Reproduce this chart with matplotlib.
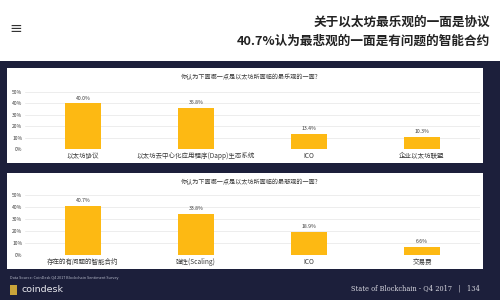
import matplotlib
matplotlib.use("Agg")
import matplotlib.pyplot as plt
import matplotlib.patches as patches

plt.rcParams['font.family'] = ['Noto Sans CJK SC', 'DejaVu Sans']

NAVY = "#1c1f3b"
BAR = "#fdb913"
TXT = "#3a3a3a"

# header text
header_lines = ["关于以太坊最乐观的一面是协议", "40.7%认为最悲观的一面是有问题的智能合约"]

# panel 1: most optimistic aspect
title_opt = "你认为下面哪一点是以太坊所面临的最乐观的一面?"
cats_opt = ["以太坊协议", "以太坊去中心化应用程序(Dapp)生态系统", "ICO", "企业以太坊联盟"]
vals_opt = [40.0, 35.8, 13.4, 10.3]

# panel 2: most pessimistic aspect
title_pes = "你认为下面哪一点是以太坊所面临的最悲观的一面?"
cats_pes = ["存在的有问题的智能合约", "弹性(Scaling)", "ICO", "交易费"]
vals_pes = [40.7, 33.8, 18.9, 6.6]

yticks = [0, 10, 20, 30, 40, 50]

W, H = 500, 300


def fx(px):
    return px / W


def fy(py):
    return 1 - py / H


fig = plt.figure(figsize=(5, 3), dpi=100, facecolor=NAVY)

# white header band
fig.add_artist(patches.Rectangle((0, fy(61)), 1, 61 / H, transform=fig.transFigure,
                                 facecolor="white", edgecolor="none", zorder=-5))
fig.text(fx(16), fy(29), "≡", ha="center", va="center", fontsize=11, color="#333333",
         family="DejaVu Sans")
fig.text(fx(490), fy(22), header_lines[0], ha="right", va="center", fontsize=9.1,
         fontweight="bold", color="#222222")
fig.text(fx(490), fy(41), header_lines[1], ha="right", va="center", fontsize=9.1,
         fontweight="bold", color="#222222")


def draw_panel(top, bottom, zero_y, top_y, title, cats, vals):
    # white card
    fig.add_artist(patches.Rectangle((fx(7), fy(bottom)), fx(483 - 7), (bottom - top) / H,
                                     transform=fig.transFigure, facecolor="white",
                                     edgecolor="none", zorder=-5))
    fig.text(fx(250), fy(top + 9), title, ha="center", va="center", fontsize=4.4, color=TXT)

    left, right = 25, 480
    ax = fig.add_axes([fx(left), fy(zero_y), fx(right - left), (zero_y - top_y) / H])
    ax.set_facecolor("none")
    half = (right - left) / 226.0
    ax.set_xlim(1.5 - half, 1.5 + half)
    ax.set_ylim(0, 50)
    x = list(range(len(cats)))
    ax.bar(x, vals, width=0.32, color=BAR, zorder=2)
    for xi, v in zip(x, vals):
        ax.text(xi, v + 2.5, f"{v:.1f}%", ha="center", va="bottom", fontsize=3.7, color=TXT)
    ax.set_xticks(x)
    ax.set_xticklabels(cats, fontsize=4.7, color=TXT)
    ax.set_yticks(yticks)
    ax.set_yticklabels([f"{t}%" for t in yticks], fontsize=3.6, color=TXT)
    ax.tick_params(length=0, pad=2)
    ax.grid(axis="y", color="#e6e6e6", linewidth=0.5, zorder=0)
    for s in ax.spines.values():
        s.set_visible(False)
    return ax


draw_panel(68, 163, 149, 92, title_opt, cats_opt, vals_opt)
draw_panel(173, 269, 255, 195, title_pes, cats_pes, vals_pes)

# footer
fig.text(fx(10), fy(278), "Data Source: CoinDesk Q4 2017 Blockchain Sentiment Survey",
         ha="left", va="center", fontsize=2.7, color="#b8bccb")
fig.add_artist(patches.Rectangle((fx(10), fy(295)), fx(7), 10 / H, transform=fig.transFigure,
                                 facecolor="#c9a43a", edgecolor="none"))
fig.text(fx(21), fy(289), "coindesk", ha="left", va="center", fontsize=6.8, color="#e8e8ee",
         family="DejaVu Sans")
fig.text(fx(480), fy(289), "State of Blockchain - Q4 2017   |   134", ha="right", va="center",
         fontsize=4.8, color="#d8d8e0", family="DejaVu Serif")

fig.savefig("out.png", dpi=100, facecolor=NAVY)
